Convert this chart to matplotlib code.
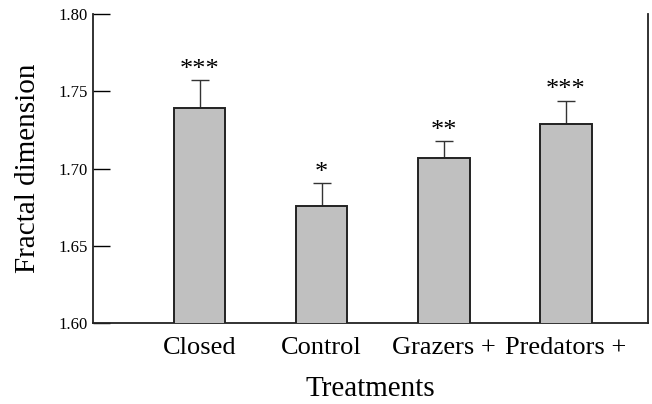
import numpy as np
import matplotlib
matplotlib.use('Agg')
import matplotlib.pyplot as plt

plt.rcParams['font.family'] = ['Liberation Serif', 'DejaVu Serif']

treatments = ['Closed', 'Control', 'Grazers +', 'Predators +']
fractal_dim = [1.739, 1.676, 1.707, 1.729]
err_upper = [0.018, 0.0146, 0.011, 0.015]
signif = ['***', '*', '**', '***']

fig = plt.figure(figsize=(6.52, 4.04), dpi=100)
ax = fig.add_axes([0.1426, 0.2005, 0.8513, 0.7648])

x = np.arange(len(treatments))
ax.bar(x, fractal_dim, width=0.42, color='#c0c0c0', edgecolor='#222222', linewidth=1.4, zorder=3)
ax.errorbar(x, fractal_dim, yerr=[np.zeros(len(x)), err_upper], fmt='none',
            ecolor='#333333', elinewidth=1.0, capsize=6.8, capthick=1.0, zorder=2)

for xi, v, e, s in zip(x, fractal_dim, err_upper, signif):
  ax.annotate(s, (xi, v + e), xytext=(0, 3), textcoords='offset points',
              ha='center', va='baseline', fontsize=19)

ax.set_ylim(1.60, 1.80)
ax.set_xlim(-0.872, 3.671)
ax.set_yticks([1.60, 1.65, 1.70, 1.75, 1.80])
ax.set_yticklabels(['1.60', '1.65', '1.70', '1.75', '1.80'])
ax.set_xticks(x)
ax.set_xticklabels(treatments, fontsize=19)
ax.tick_params(axis='y', direction='in', length=12, width=1.0, pad=4, labelsize=12)
ax.tick_params(axis='x', length=0, pad=10)

ax.spines['top'].set_visible(False)
for side in ('left', 'right', 'bottom'):
  ax.spines[side].set_linewidth(1.3)
  ax.spines[side].set_color('#222222')

ax.set_ylabel('Fractal dimension', fontsize=21, labelpad=12)
ax.set_xlabel('Treatments', fontsize=21, labelpad=12)

plt.savefig('out.png', dpi=100)
